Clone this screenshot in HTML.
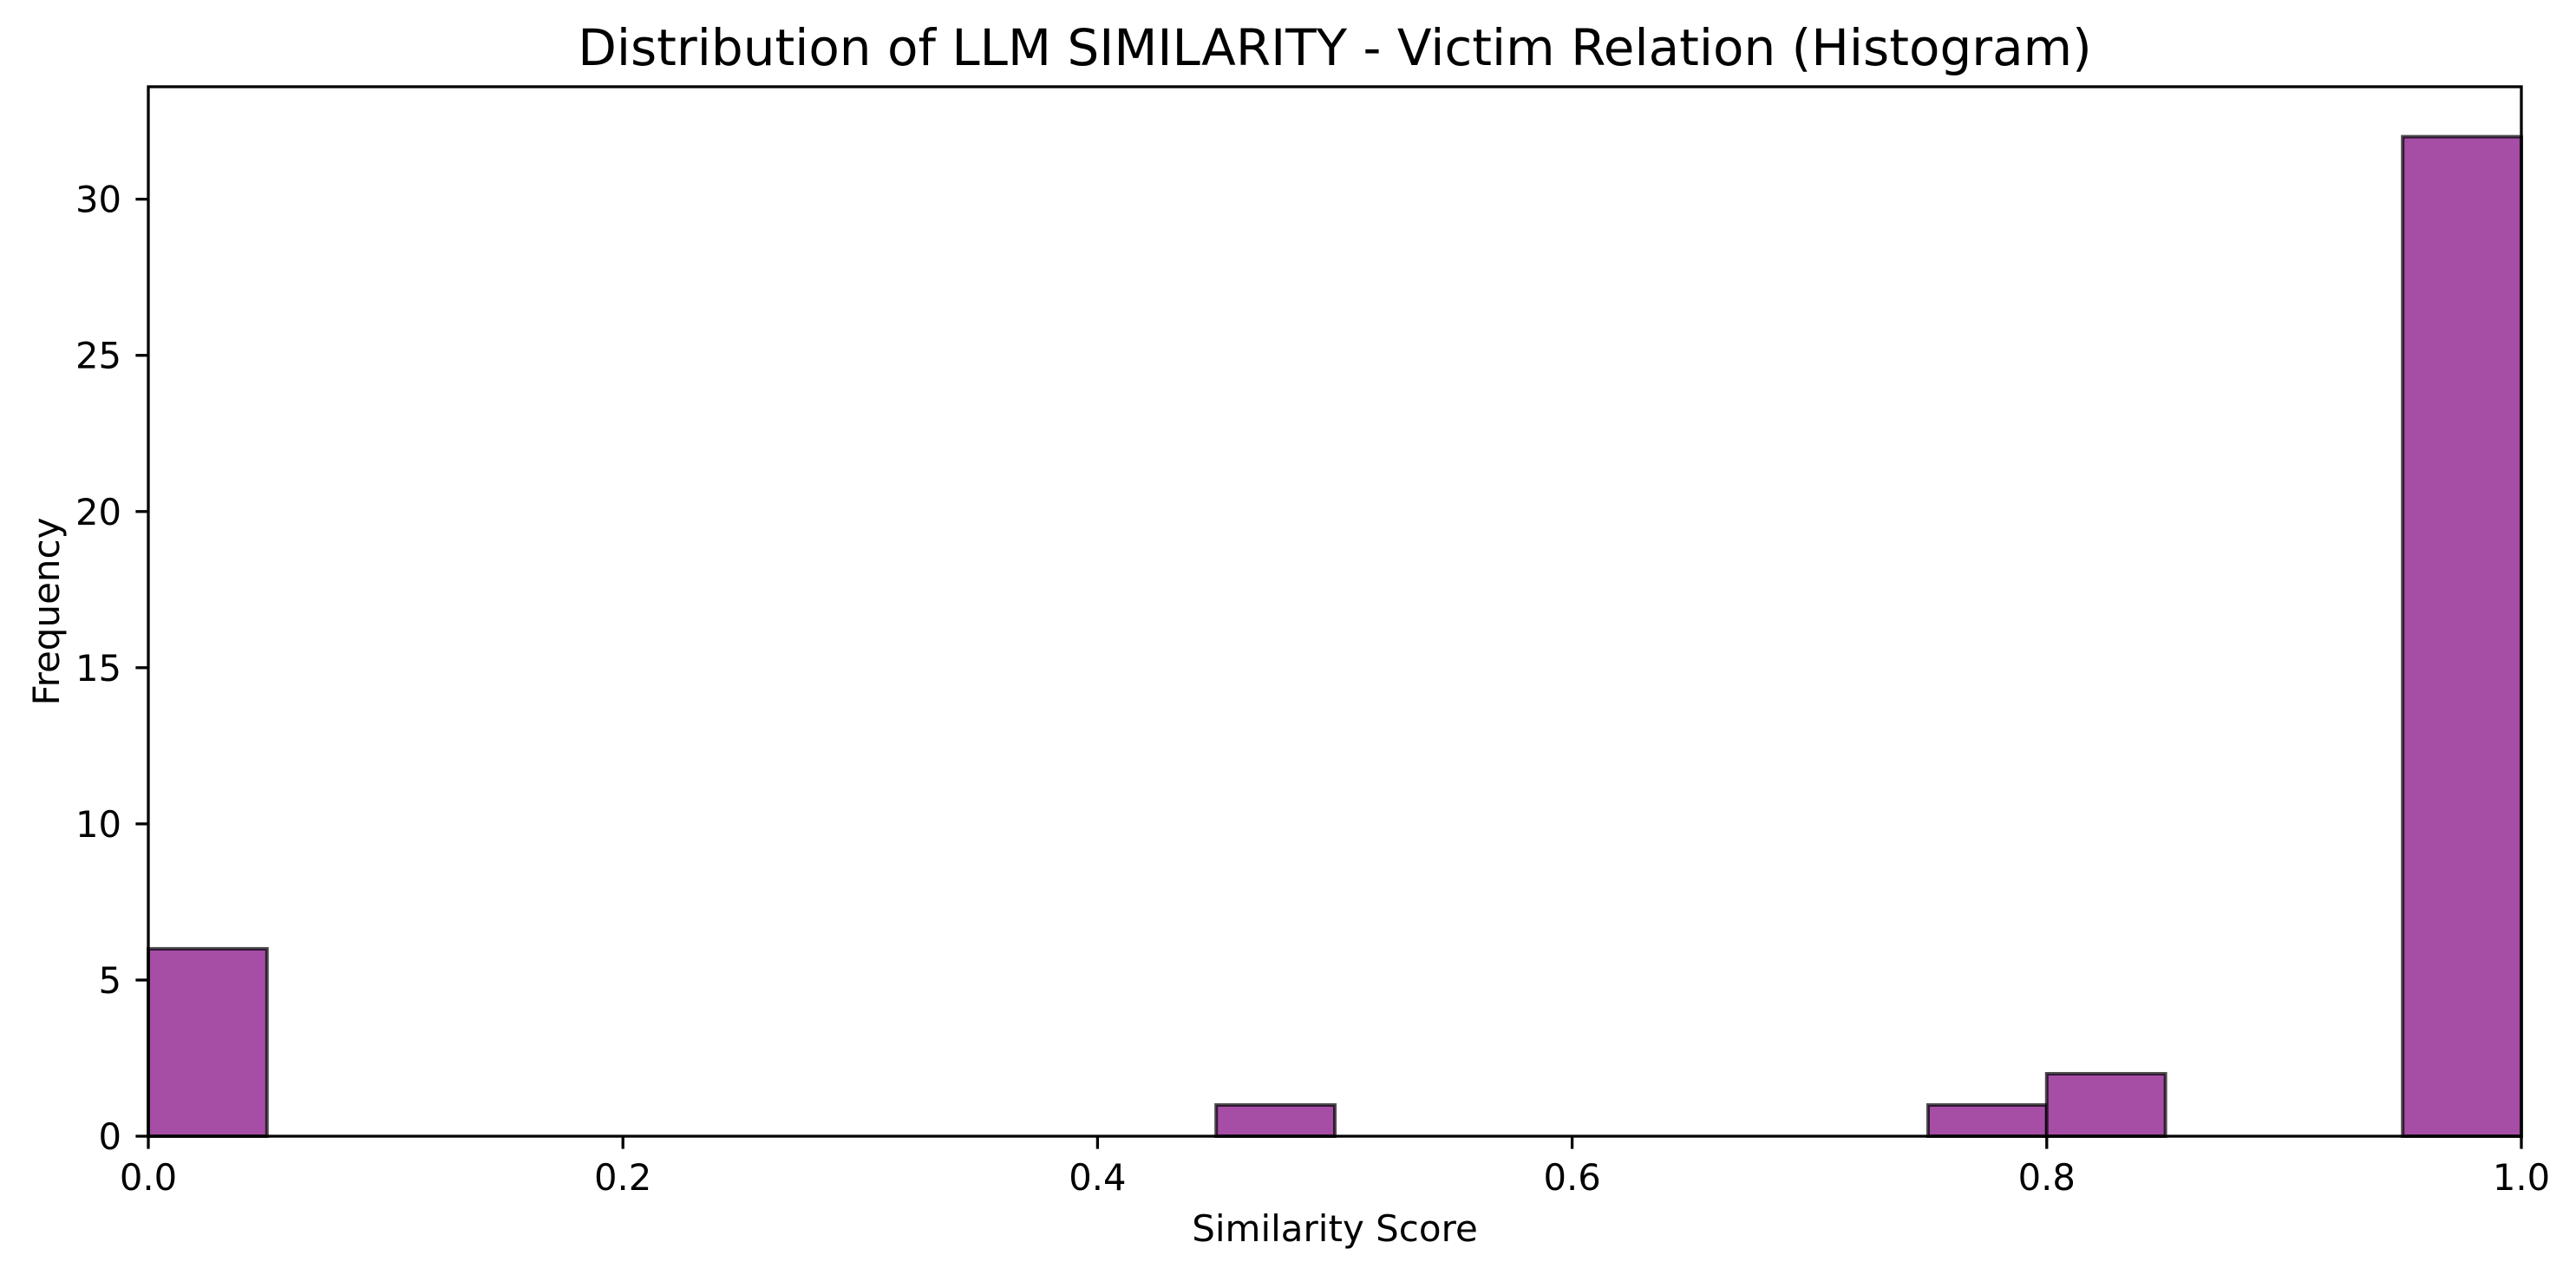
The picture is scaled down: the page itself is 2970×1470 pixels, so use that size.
<!DOCTYPE html>
<html><head><meta charset="utf-8"><style>
html,body{margin:0;padding:0;background:#fff;}
svg{display:block;font-family:"DejaVu Sans","Liberation Sans",sans-serif;}
</style></head><body>
<svg id="chart" width="2970" height="1470" viewBox="0 0 2970 1470" xmlns="http://www.w3.org/2000/svg">
<rect width="2970" height="1470" fill="#fff"/>
<text x="1539" y="75" font-size="58" text-anchor="middle">Distribution of LLM SIMILARITY - Victim Relation (Histogram)</text>
<g id="bars"></g>
<g id="axes"></g>
<text x="1539" y="1431" font-size="42" text-anchor="middle">Similarity Score</text>
<text transform="translate(68,705) rotate(-90)" font-size="42" text-anchor="middle">Frequency</text>
</svg>
<script>
const binStarts = [0.00,0.05,0.10,0.15,0.20,0.25,0.30,0.35,0.40,0.45,0.50,0.55,0.60,0.65,0.70,0.75,0.80,0.85,0.90,0.95];
const counts = [6,0,0,0,0,0,0,0,0,1,0,0,0,0,0,1,2,0,0,32];
const binWidth = 0.05;
const xTicks = [0.0,0.2,0.4,0.6,0.8,1.0];
const xTickLabels = ["0.0","0.2","0.4","0.6","0.8","1.0"];
const yTicks = [0,5,10,15,20,25,30];
const yTickLabels = ["0","5","10","15","20","25","30"];
const yMax = 33.6;

const L=171,R=2907,T=100,B=1310;
const NS="http://www.w3.org/2000/svg";
function xs(v){return L+(v-0)/(1-0)*(R-L);}
function ys(v){return B-v/yMax*(B-T);}
function mk(tag,attrs,parent){const e=document.createElementNS(NS,tag);for(const k in attrs)e.setAttribute(k,attrs[k]);parent.appendChild(e);return e;}
const bars=document.getElementById('bars');
binStarts.forEach((s,i)=>{
  if(counts[i]<=0)return;
  const x0=xs(s),x1=xs(s+binWidth),y=ys(counts[i]);
  const r=mk('rect',{x:x0,y:y,width:x1-x0,height:B-y,fill:'#a64da6',stroke:'rgba(0,0,0,0.7)','stroke-width':4},bars);
  
  
});
const axes=document.getElementById('axes');
const frame=mk('rect',{x:L,y:T,width:R-L,height:B-T,fill:'none',stroke:'#000','stroke-width':3.3},axes);


xTicks.forEach((v,i)=>{
  const x=xs(v);
  const t=mk('line',{x1:x,x2:x,y1:B,y2:B+14.6,stroke:'#000','stroke-width':3.3},axes);
  
  
  const lb=mk('text',{x:x,y:1372,'font-size':41.7,'text-anchor':'middle'},axes);
  lb.textContent=xTickLabels[i];
  
  
});
yTicks.forEach((v,i)=>{
  const y=ys(v);
  const t=mk('line',{x1:L-14.6,x2:L,y1:y,y2:y,stroke:'#000','stroke-width':3.3},axes);
  
  
  const lb=mk('text',{x:140,y:y+15,'font-size':41.7,'text-anchor':'end'},axes);
  lb.textContent=yTickLabels[i];
  
  
});
</script>
</body></html>
